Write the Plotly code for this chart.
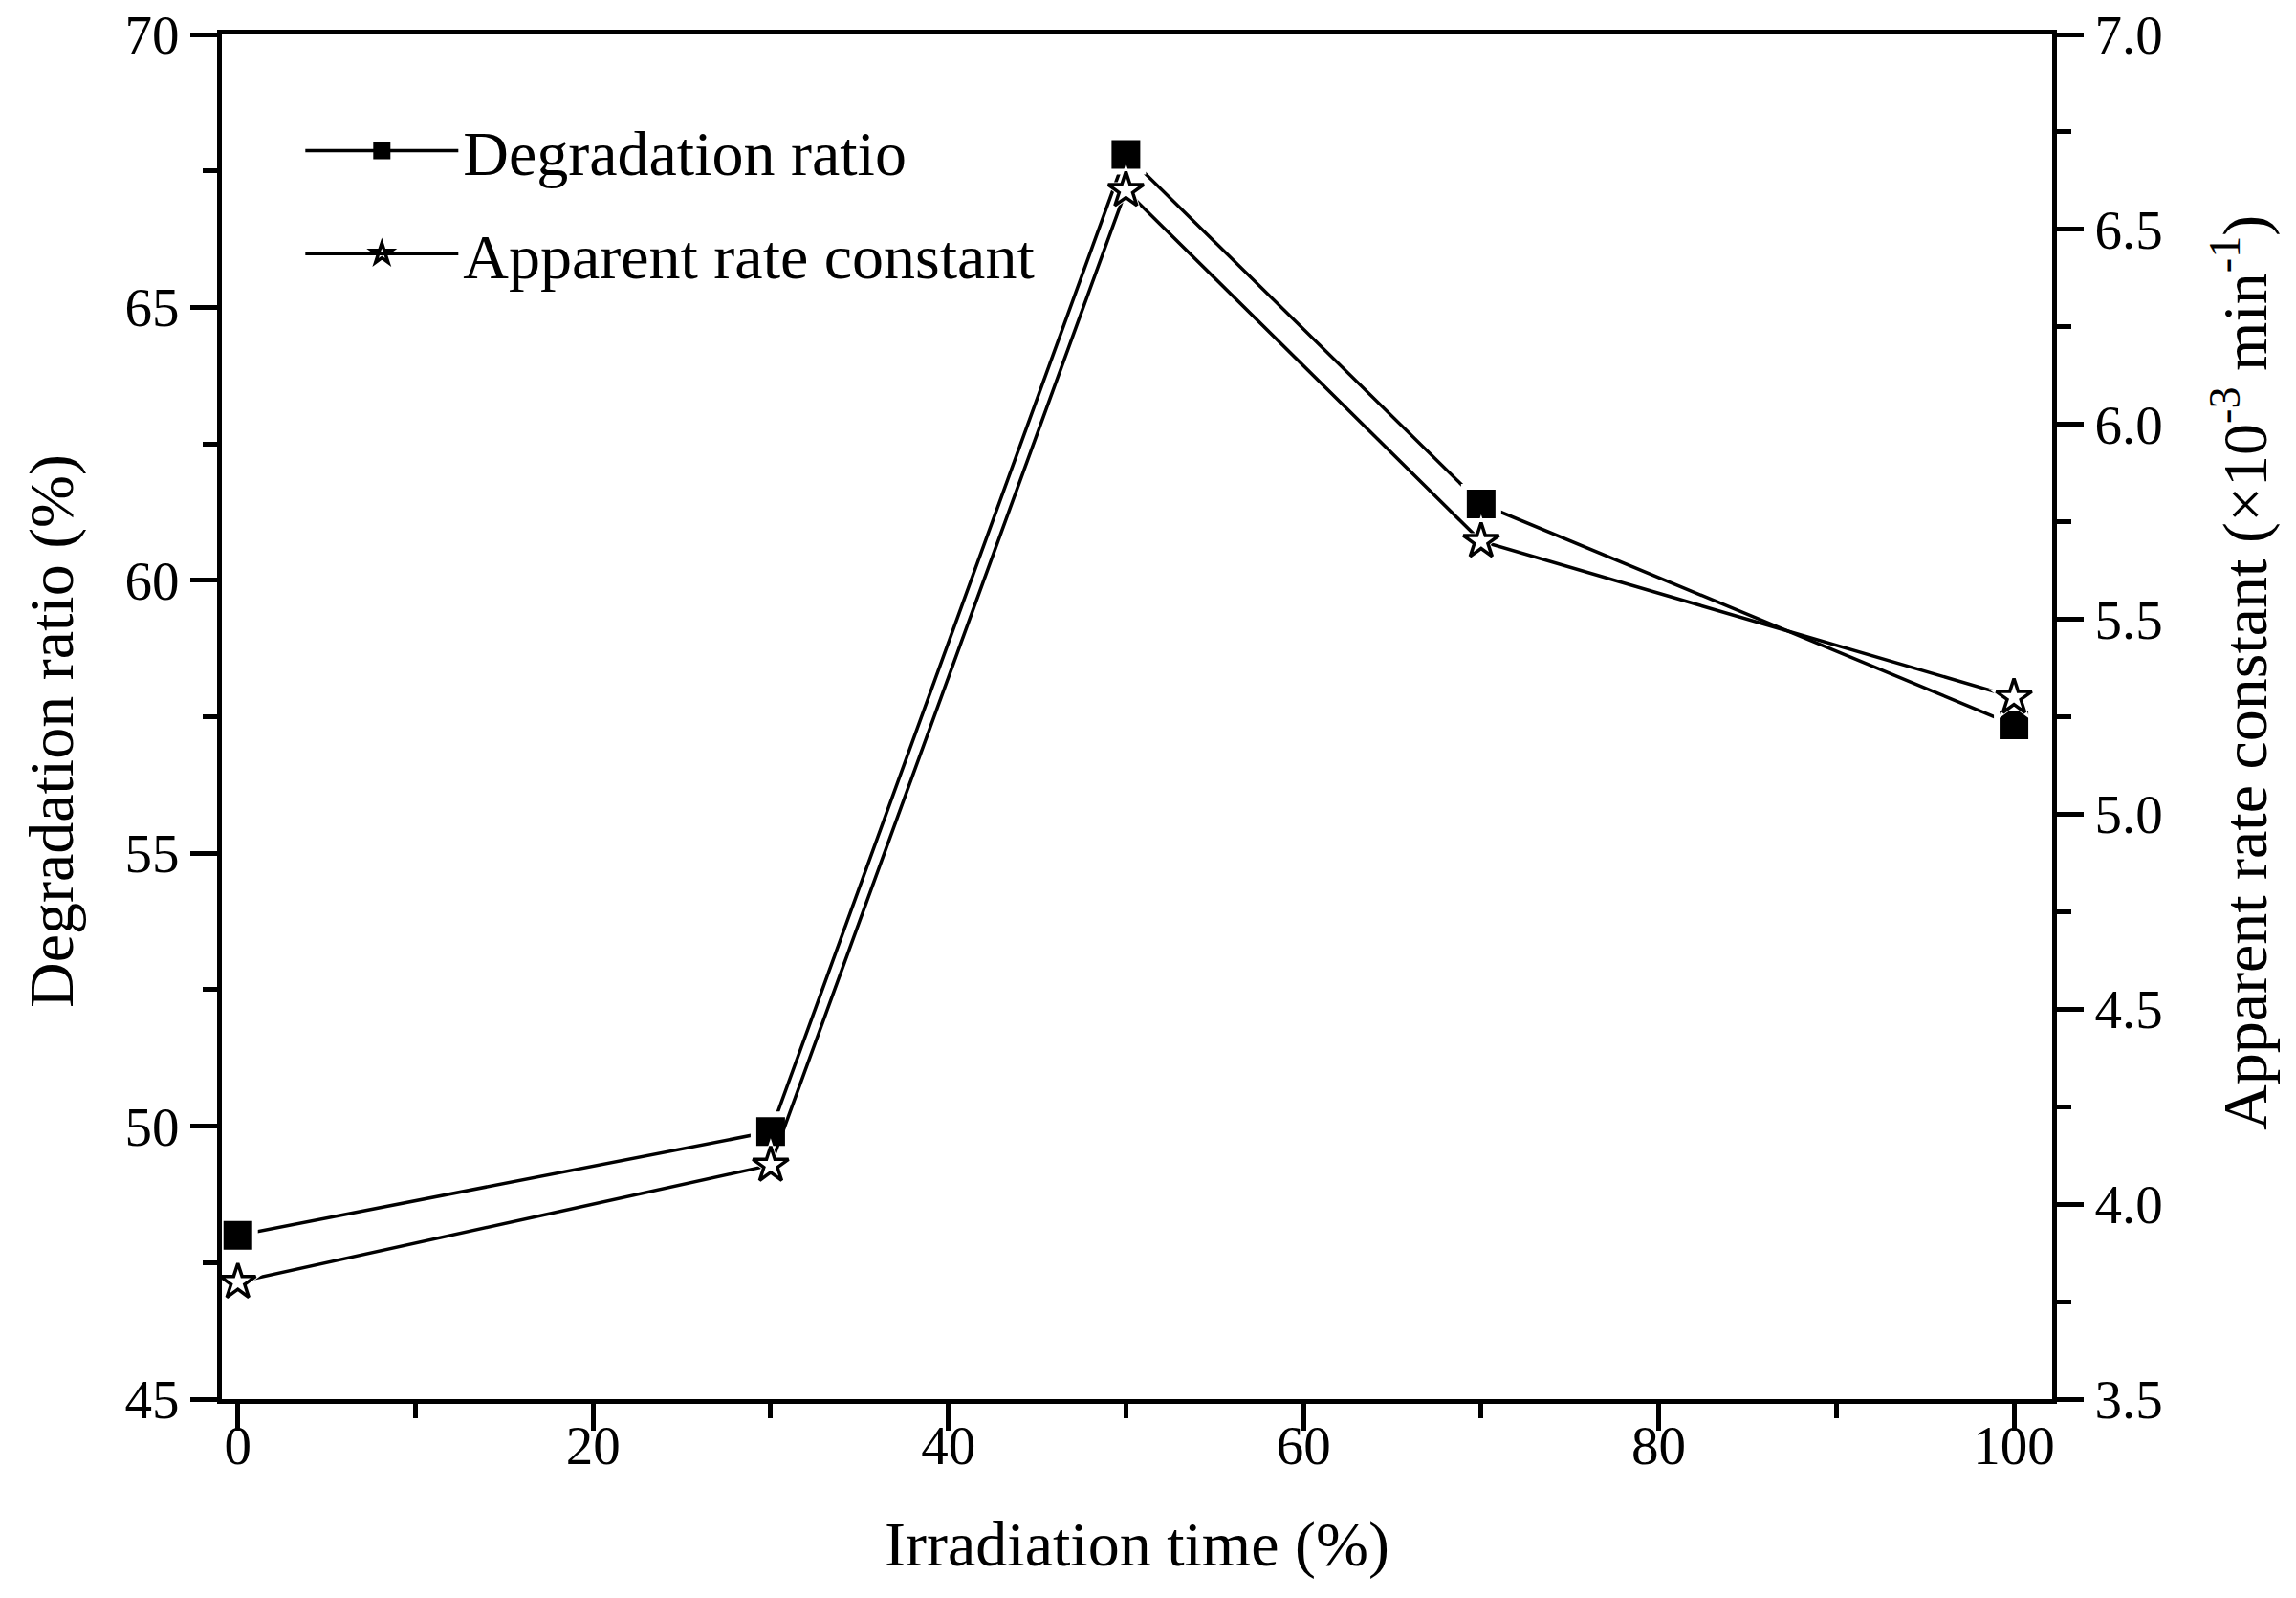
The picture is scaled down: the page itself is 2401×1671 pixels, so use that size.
import plotly.graph_objects as go

# ---- data ----
irradiation_time = [0, 30, 50, 70, 100]
degradation_ratio = [48.0, 49.9, 67.8, 61.4, 57.35]
rate_constant = [3.8, 4.1, 6.6, 5.7, 5.3]

x_ticks = [0, 20, 40, 60, 80, 100]
y_ticks = [45, 50, 55, 60, 65, 70]
y2_ticks = [3.5, 4.0, 4.5, 5.0, 5.5, 6.0, 6.5, 7.0]

FONT = "Liberation Serif, Times New Roman, serif"
W, H = 2401, 1671
ML, MR, MT, MB = 232, 255, 36, 208
PW = W - ML - MR
PH = H - MT - MB

sq = dict(symbol="square", size=28, color="black", line=dict(color="black", width=2))
st = dict(symbol="star-open", size=28, color="black", line=dict(color="black", width=3.5))

fig = go.Figure()

# lines (these carry the legend entries)
fig.add_trace(go.Scatter(x=irradiation_time, y=degradation_ratio, mode="lines+markers",
                         name="Degradation ratio", legendgroup="a",
                         line=dict(color="black", width=3.5), marker=sq,
                         cliponaxis=False, yaxis="y"))
fig.add_trace(go.Scatter(x=irradiation_time, y=rate_constant, mode="lines+markers",
                         name="Apparent rate constant", legendgroup="b",
                         line=dict(color="black", width=3.5), marker=st,
                         cliponaxis=False, yaxis="y2"))
# white halos (gap between line and marker)
fig.add_trace(go.Scatter(x=irradiation_time, y=degradation_ratio, mode="markers",
                         marker=dict(symbol="square", size=42, color="white", line=dict(width=0)),
                         showlegend=False, hoverinfo="skip", cliponaxis=False, yaxis="y"))
fig.add_trace(go.Scatter(x=irradiation_time, y=rate_constant, mode="markers",
                         marker=dict(symbol="star", size=40, color="white", line=dict(width=0)),
                         showlegend=False, hoverinfo="skip", cliponaxis=False, yaxis="y2"))
# markers on top
fig.add_trace(go.Scatter(x=irradiation_time, y=degradation_ratio, mode="markers",
                         marker=sq, showlegend=False, cliponaxis=False, yaxis="y"))
fig.add_trace(go.Scatter(x=irradiation_time, y=rate_constant, mode="markers",
                         marker=st, showlegend=False, cliponaxis=False, yaxis="y2"))

TICKSIZE = 57
TITLESIZE = 66
axis_common = dict(showgrid=False, zeroline=False, linecolor="black", linewidth=5,
                   ticks="outside", tickcolor="black", tickwidth=5, automargin=False,
                   ticklabeloverflow="allow",
                   tickfont=dict(family=FONT, size=TICKSIZE, color="black"))

fig.update_layout(
    width=W, height=H,
    margin=dict(l=ML, r=MR, t=MT, b=MB),
    paper_bgcolor="white", plot_bgcolor="white",
    font=dict(family=FONT, color="black"),
    xaxis=dict(range=[-0.9, 102.15], tickvals=x_ticks, ticklen=28,
               minor=dict(dtick=10, tick0=0, ticklen=15, tickwidth=5, tickcolor="black", ticks="outside"),
               mirror=True, ticklabelstandoff=-33,
               title=dict(text="Irradiation time (%)", font=dict(family=FONT, size=TITLESIZE), standoff=50),
               **axis_common),
    yaxis=dict(range=[45, 70], tickvals=y_ticks, ticklen=28,
               minor=dict(dtick=2.5, tick0=45, ticklen=15, tickwidth=5, tickcolor="black", ticks="outside"),
               **axis_common),
    yaxis2=dict(range=[3.5, 7.0], tickvals=y2_ticks, tickformat=".1f", ticklen=28,
                overlaying="y", side="right",
                minor=dict(dtick=0.25, tick0=3.5, ticklen=15, tickwidth=5, tickcolor="black", ticks="outside"),
                **axis_common),
    legend=dict(x=0.043, y=0.9495, xanchor="left", yanchor="top",
                bgcolor="rgba(0,0,0,0)", borderwidth=0,
                font=dict(family=FONT, size=TITLESIZE, color="black"),
                tracegroupgap=19, itemwidth=160),
    annotations=[
        dict(text="Degradation ratio (%)", textangle=-90, showarrow=False,
             xref="paper", yref="paper", x=(54 - ML) / PW, y=(H - MB - 765) / PH,
             xanchor="center", yanchor="middle",
             font=dict(family=FONT, size=TITLESIZE, color="black")),
        dict(text="Apparent rate constant (\u00d710<sup>-3</sup> min<sup>-1</sup>)", textangle=-90,
             showarrow=False, xref="paper", yref="paper",
             x=(2343 - ML) / PW, y=(H - MB - 704) / PH,
             xanchor="center", yanchor="middle",
             font=dict(family=FONT, size=TITLESIZE, color="black")),
    ],
)

fig.write_html("out.html", config={"displayModeBar": False},
               post_script="document.body.style.margin='0';document.body.style.overflow='hidden';")
